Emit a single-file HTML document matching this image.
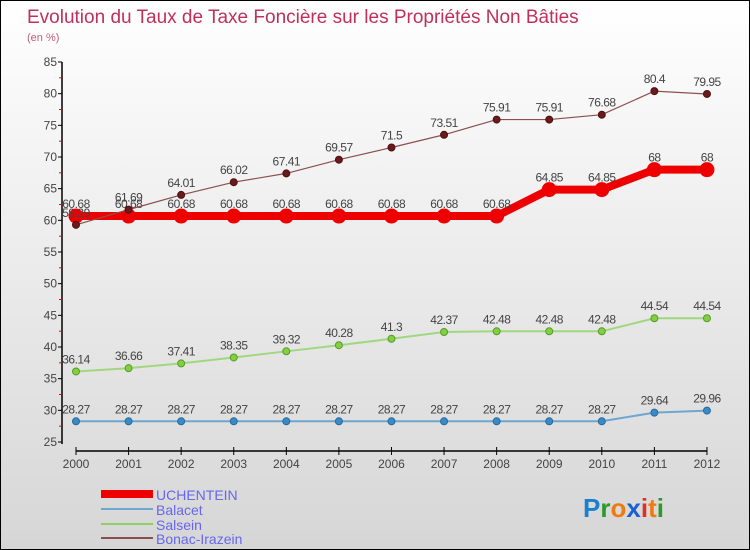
<!DOCTYPE html>
<html><head><meta charset="utf-8"><style>
body{margin:0}
#c{width:750px;height:550px;position:relative;box-sizing:border-box;border:1px solid #000;background:linear-gradient(#ffffff,#d6d6d6);font-family:"Liberation Sans",sans-serif;overflow:hidden}
svg text{font-family:"Liberation Sans",sans-serif}
</style></head><body>
<div id="c">
<svg id="s" width="750" height="550">
<text x="26" y="22" font-size="19" fill="#c0305a">Evolution du Taux de Taxe Foncière sur les Propriétés Non Bâties</text>
<text x="26" y="40" font-size="11" fill="#c0607a">(en %)</text>
<g id="axes"></g><g id="series"></g>
<g>
<rect x="100" y="489" width="52" height="8" fill="#ee0000"/>
<text x="155" y="499" font-size="14" fill="#6666ee">UCHENTEIN</text>
<line x1="100" y1="508" x2="152" y2="508" stroke="#6fa6cf" stroke-width="2"/>
<text x="155" y="514" font-size="14" fill="#6666ee">Balacet</text>
<line x1="100" y1="523" x2="152" y2="523" stroke="#90d060" stroke-width="2"/>
<text x="155" y="529" font-size="14" fill="#6666ee">Salsein</text>
<line x1="100" y1="537" x2="152" y2="537" stroke="#8a5050" stroke-width="2"/>
<text x="155" y="543" font-size="14" fill="#6666ee">Bonac-Irazein</text>
</g>
<text x="582" y="516" font-size="26" font-weight="bold"><tspan fill="#1a7fd0">P</tspan><tspan fill="#2a9a2a">r</tspan><tspan fill="#f07a10">o</tspan><tspan fill="#1a60d0">x</tspan><tspan fill="#e03020">i</tspan><tspan fill="#f07a10">t</tspan><tspan fill="#2a9a2a">i</tspan></text>
</svg></div>
<script>
const years=[2000,2001,2002,2003,2004,2005,2006,2007,2008,2009,2010,2011,2012];
const uchentein=[60.68,60.68,60.68,60.68,60.68,60.68,60.68,60.68,60.68,64.85,64.85,68,68];
const balacet=[28.27,28.27,28.27,28.27,28.27,28.27,28.27,28.27,28.27,28.27,28.27,29.64,29.96];
const salsein=[36.14,36.66,37.41,38.35,39.32,40.28,41.3,42.37,42.48,42.48,42.48,44.54,44.54];
const bonac=[59.29,61.69,64.01,66.02,67.41,69.57,71.5,73.51,75.91,75.91,76.68,80.4,79.95];
const yTicks=[25,30,35,40,45,50,55,60,65,70,75,80,85];
const NS="http://www.w3.org/2000/svg";
const X=i=>75+i*52.58, Y=v=>441-(v-25)*(380/60);
function mk(t,a,p){const e=document.createElementNS(NS,t);for(const k in a)e.setAttribute(k,a[k]);p.appendChild(e);return e;}
const ax=document.getElementById('axes');
let l=mk('line',{x1:61,y1:Y(85),x2:61,y2:Y(25)+2,stroke:'#000','stroke-width':1.5},ax);


yTicks.forEach(v=>{
 mk('line',{x1:57,y1:Y(v),x2:61,y2:Y(v),stroke:'#000'},ax);
 if(v<85)mk('line',{x1:58,y1:Y(v+2.5),x2:61,y2:Y(v+2.5),stroke:'#e00'},ax);
 const t=mk('text',{x:56,y:Y(v)+4,'font-size':12,'text-anchor':'end',fill:'#444'},ax);t.textContent=v;
 
 
});
l=mk('line',{x1:75,y1:450,x2:706,y2:450,stroke:'#000','stroke-width':1.5},ax);


years.forEach((y,i)=>{
 mk('line',{x1:X(i),y1:446,x2:X(i),y2:454,stroke:'#000'},ax);
 const t=mk('text',{x:X(i),y:467,'font-size':12,'text-anchor':'middle',fill:'#444'},ax);t.textContent=y;
 
 
});
const sg=document.getElementById('series');
function series(vals,name,color,w,r,dot,stroke){
 const g=mk('g',{},sg);
 
 
 const pl=mk('polyline',{points:vals.map((v,i)=>X(i)+','+Y(v)).join(' '),fill:'none',stroke:color,'stroke-width':w},g);
 
 
 vals.forEach((v,i)=>{
  const c=mk('circle',{cx:X(i),cy:Y(v),r:r,fill:dot,stroke:stroke,'stroke-width':1},g);
  
  
  const t=mk('text',{x:X(i),y:Y(v)-8,'font-size':12,'text-anchor':'middle',fill:'#444','letter-spacing':'-0.5'},g);t.textContent=v;
  
  
 });
}
series(balacet,'balacet','#6fa6cf',2,3.5,'#3a8ac8','#2a6a98');
series(salsein,'salsein','#a0d880',2,3.5,'#80d040','#5a9a2a');
series(uchentein,'uchentein','#ee0000',8,7,'#ee0000','#ee0000');
series(bonac,'bonac-irazein','#8a5050',1.2,3.5,'#6a1a1a','#501010');
</script>
</body></html>
